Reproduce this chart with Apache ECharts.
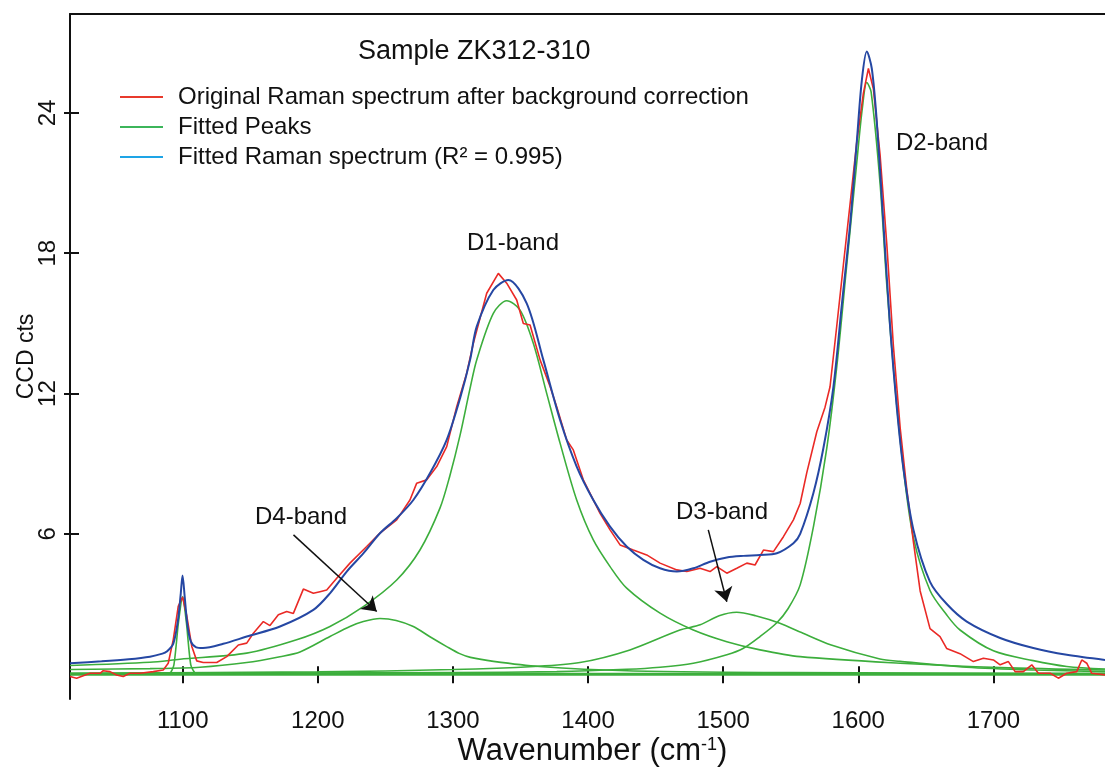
<!DOCTYPE html>
<html>
<head>
<meta charset="utf-8">
<script src="https://cdn.jsdelivr.net/npm/echarts@6/dist/echarts.min.js"></script>
<style>
html,body{margin:0;padding:0;background:#fff;}
#chart{width:1105px;height:772px;}
</style>
</head>
<body>
<div id="chart"></div>
<script>
// ---- tick values ----
const xTicks = [1100, 1200, 1300, 1400, 1500, 1600, 1700];
const yTicks = [6, 12, 18, 24];

// ---- original spectrum (wavenumber, CCD cts) ----
const originalSpectrum = [
  [1016.6,-0.1],[1021.5,-0.17],[1031.4,0.04],[1038.8,0.04],[1041.2,0.15],[1046.2,0.11],[1051.1,-0.03],
  [1056,-0.1],[1061,0.04],[1068.4,0.04],[1078.2,0.11],[1085.6,0.18],[1089.3,0.47],[1093,1.47],
  [1096.7,2.9],[1099.9,3.3],[1103,2.5],[1106.7,1.2],[1110.4,0.57],[1115.2,0.5],[1120.2,0.5],
  [1125.2,0.5],[1132.6,0.75],[1141.2,1.25],[1147.4,1.33],[1152.3,1.75],[1159.7,2.25],[1164.6,2.08],
  [1170.8,2.54],[1177,2.68],[1181.9,2.6],[1189.3,3.64],[1196.7,3.46],[1201.6,3.53],[1206.6,3.6],
  [1214,4.1],[1223.8,4.75],[1236.2,5.46],[1246,6.03],[1258.4,6.6],[1268.2,7.45],[1273.2,8.17],
  [1280.6,8.31],[1288,8.88],[1295.4,9.73],[1302.8,11.44],[1310.2,12.87],[1315.1,14.15],[1325,16.29],
  [1333.6,17.14],[1339.8,16.72],[1347.2,16.0],[1352.1,15.0],[1357.1,14.93],[1364.5,13.44],[1371.9,12.3],
  [1376.8,11.44],[1384.2,10.02],[1389.1,9.59],[1396.5,8.31],[1403.9,7.45],[1408.9,6.88],[1416.3,6.17],
  [1423.7,5.53],[1433.5,5.31],[1443.4,5.1],[1453.3,4.75],[1465.7,4.46],[1473.1,4.39],[1482.9,4.53],
  [1490.3,4.39],[1495.3,4.6],[1502.7,4.32],[1510.1,4.53],[1517.5,4.75],[1523.6,4.67],[1529.8,5.31],
  [1537.2,5.24],[1544.6,5.88],[1552,6.6],[1557,7.3],[1561.9,8.62],[1569.3,10.37],[1575.4,11.42],
  [1579.1,12.29],[1584.1,14.9],[1589,17.52],[1594,20.14],[1598.9,22.76],[1603.8,24.85],[1607.5,25.9],
  [1611.2,25.02],[1616.1,22.23],[1621.1,18.39],[1626,14.03],[1631,10.54],[1635.9,7.92],[1640.8,5.66],
  [1645.8,3.56],[1653.1,1.95],[1660.5,1.61],[1665.4,1.1],[1675.3,0.88],[1685.2,0.54],[1692.6,0.68],
  [1700,0.61],[1705,0.4],[1711.1,0.54],[1716.1,0.11],[1722.2,0.11],[1728.4,0.4],[1733.3,0.04],
  [1742,0.04],[1748.1,-0.17],[1754.3,0.04],[1761.7,0.11],[1765.4,0.61],[1769.1,0.47],[1772.8,0.04],
  [1782.6,-0.03]
];

// ---- fitted sum ----
const fittedSpectrum = [
  [1016.6,0.47],[1040,0.55],[1060,0.64],[1075.8,0.75],[1085,0.88],[1088.2,0.97],[1093,1.3],
  [1096.5,2.3],[1098.5,3.4],[1099.9,4.22],[1101.5,3.3],[1103.5,2.1],[1106,1.4],[1110,1.15],
  [1115,1.12],[1130,1.3],[1147.4,1.61],[1172,2.04],[1196.7,2.75],[1209,3.46],[1221.4,4.39],
  [1233.7,5.17],[1246,6.03],[1258.4,6.67],[1270.7,7.45],[1283,8.59],[1295.4,10.02],[1305.3,11.8],
  [1312.7,13.44],[1317.6,14.86],[1329.9,16.43],[1341,16.86],[1354.6,15.86],[1366.9,13.44],
  [1379.3,10.87],[1391.6,8.88],[1403.9,7.45],[1416.3,6.31],[1428.6,5.46],[1440.9,4.89],[1453.3,4.53],
  [1465.7,4.39],[1477.9,4.53],[1490.3,4.81],[1502.7,4.99],[1515,5.06],[1527.3,5.10],[1539.7,5.17],
  [1552,5.6],[1557,6.0],[1566.8,7.75],[1574.2,9.67],[1581.6,12.29],[1587.8,15.78],[1594,19.27],
  [1598.9,22.76],[1602.6,25.37],[1606.3,26.63],[1610,25.9],[1613.7,23.63],[1618.6,19.27],
  [1623.5,14.9],[1628.5,11.42],[1633.4,8.79],[1640.8,6.18],[1653.1,3.95],[1665.5,3.0],[1680.3,2.25],
  [1705,1.55],[1729.5,1.12],[1754.3,0.83],[1782.6,0.61]
];

// ---- fitted peaks ----
const peak1100 = [
  [1016.6,0.02],[1090,0.03],[1093.5,0.4],[1096.8,2.18],[1100,3.32],[1102.8,2.18],[1106,0.4],
  [1110,0.03],[1782.6,0.02]
];
const peakD4 = [
  [1016.6,0.2],[1075.8,0.24],[1112.8,0.3],[1147.4,0.5],[1172,0.75],[1186.8,0.95],[1209,1.61],
  [1223.8,2.04],[1233.7,2.25],[1246,2.38],[1258,2.3],[1270.7,2.04],[1283,1.6],[1295.4,1.18],
  [1305,0.88],[1313,0.72],[1330,0.55],[1364,0.33],[1428.6,0.15],[1550,0.07],[1782.6,0.03]
];
const peakD1 = [
  [1016.6,0.37],[1075.8,0.51],[1098,0.64],[1147.4,0.9],[1184.3,1.47],[1209,2.04],[1233.7,2.89],
  [1258.4,4.03],[1275.6,5.31],[1290.4,7.1],[1297.8,8.5],[1305.2,10.2],[1312.6,12.2],[1317.6,13.44],
  [1329.9,15.43],[1339.8,15.97],[1349.7,15.57],[1359.5,14.15],[1369.4,12.01],[1379.3,9.88],
  [1391.6,7.45],[1403.9,5.74],[1416.3,4.6],[1428.6,3.68],[1453.3,2.61],[1477.9,1.89],[1502.7,1.39],
  [1527.3,1.04],[1557,0.75],[1631,0.47],[1705,0.28],[1782.6,0.18]
];
const peakD3 = [
  [1016.6,0.04],[1200,0.1],[1300,0.2],[1360,0.33],[1394,0.5],[1431,1.04],[1468,1.89],[1483,2.11],
  [1497,2.5],[1510,2.65],[1524,2.5],[1542,2.18],[1558,1.78],[1580,1.25],[1616,0.65],[1631,0.55],
  [1680,0.3],[1730,0.18],[1782.6,0.11]
];
const peakD2 = [
  [1016.6,0.03],[1300,0.07],[1376.8,0.11],[1428.6,0.21],[1453.3,0.30],[1477.9,0.47],[1502.7,0.83],
  [1515,1.11],[1527.3,1.61],[1539.7,2.2],[1548,2.8],[1557,3.82],[1566.8,6.3],[1576.7,9.67],
  [1584.1,13.16],[1591.5,17.52],[1598.9,21.89],[1603,24.2],[1606.3,25.3],[1609.5,24.9],[1616.1,21.01],
  [1621.1,16.65],[1627.2,12.29],[1633.4,8.79],[1640.8,5.84],[1653.1,3.58],[1665.5,2.53],[1675.3,1.89],
  [1700,1.0],[1729.5,0.58],[1754.3,0.33],[1782.6,0.22]
];
const baseline = [[1016.6,0.0],[1782.6,0.0]];

const NAME_RED = 'Original Raman spectrum after background correction';
const NAME_GREEN = 'Fitted Peaks';
const NAME_BLUE = 'Fitted Raman spectrum (R\u00B2 = 0.995)';

const RED = '#ea2a26', GREEN = '#3cae3c', BLUE = '#2547a3';
const FONT = "'Liberation Sans', Arial, sans-serif";
const X_MIN = 1016.6, X_MAX = 1782.6, Y_MIN = -1.06, Y_MAX = 28.23;

function greenSeries(data, extra) {
  return Object.assign({
    name: NAME_GREEN, type: 'line', data: data, symbol: 'none', smooth: 0.3,
    lineStyle: {color: GREEN, width: 1.6}, itemStyle: {color: GREEN},
    z: 2
  }, extra || {});
}

const chart = echarts.init(document.getElementById('chart'), null, {renderer: 'canvas'});
const option = {
  animation: false,
  backgroundColor: '#fff',
  textStyle: {fontFamily: FONT, color: '#111'},
  title: {
    text: 'Sample ZK312-310', left: 353, top: 33, padding: 5,
    textStyle: {fontFamily: FONT, fontSize: 27, fontWeight: 'normal', color: '#111'}
  },
  legend: {
    orient: 'vertical', left: 120, top: 85, padding: 0,
    icon: 'rect', itemWidth: 43, itemHeight: 2, itemGap: 6,
    textStyle: {fontFamily: FONT, fontSize: 24, color: '#111', lineHeight: 24, padding: [0, 0, 0, 10]},
    data: [
      {name: NAME_RED, itemStyle: {color: '#e83a2c'}},
      {name: NAME_GREEN, itemStyle: {color: '#3cb55a'}},
      {name: NAME_BLUE, itemStyle: {color: '#1ea4e6'}}
    ]
  },
  grid: {left: 70, right: 0, top: 14, bottom: 73, containLabel: false, outerBoundsMode: 'none'},
  xAxis: [
    {
      type: 'value', min: X_MIN, max: X_MAX, position: 'bottom',
      axisLine: {lineStyle: {color: '#111', width: 2}},
      axisTick: {inside: false, length: 9, customValues: xTicks, lineStyle: {color: '#111', width: 2}},
      axisLabel: {customValues: xTicks, fontSize: 24, color: '#111', margin: 10, fontFamily: FONT,
        formatter: function (v) { return String(Math.round(v)); }},
      splitLine: {show: false},
      name: 'Wavenumber (cm{sup|-1})', nameLocation: 'middle', nameGap: 37, nameMoveOverlap: false,
      nameTextStyle: {
        fontSize: 31, color: '#111', fontFamily: FONT, padding: [0, 0, 0, 10],
        rich: {sup: {fontSize: 18, verticalAlign: 'top', color: '#111', fontFamily: FONT, padding: [0, 0, 12, 0]}}
      }
    },
    {
      type: 'value', min: X_MIN, max: X_MAX, position: 'bottom',
      axisLine: {show: false},
      axisTick: {inside: true, length: 8, customValues: xTicks, lineStyle: {color: '#111', width: 2}},
      axisLabel: {show: false}, splitLine: {show: false}
    },
    {
      type: 'value', min: X_MIN, max: X_MAX, position: 'top',
      axisLine: {lineStyle: {color: '#111', width: 2}},
      axisTick: {show: false}, axisLabel: {show: false}, splitLine: {show: false}
    }
  ],
  yAxis: [
    {
      type: 'value', min: Y_MIN, max: Y_MAX, position: 'left',
      axisLine: {show: true, lineStyle: {color: '#111', width: 2}},
      axisTick: {show: true, inside: false, length: 6, customValues: yTicks, lineStyle: {color: '#111', width: 2}},
      axisLabel: {customValues: yTicks, rotate: 90, fontSize: 24, color: '#111', margin: 10, fontFamily: FONT},
      splitLine: {show: false},
      name: 'CCD cts', nameLocation: 'middle', nameGap: 32, nameMoveOverlap: false,
      nameTextStyle: {fontSize: 23, color: '#111', fontFamily: FONT}
    },
    {
      type: 'value', min: Y_MIN, max: Y_MAX, position: 'left',
      axisLine: {show: false},
      axisTick: {show: true, inside: true, length: 9, customValues: yTicks, lineStyle: {color: '#111', width: 2}},
      axisLabel: {show: false}, splitLine: {show: false}
    }
  ],
  series: [
    greenSeries(baseline, {smooth: false, lineStyle: {color: GREEN, width: 3},
      markLine: {
        silent: true, symbol: ['none', 'arrow'], symbolSize: 14,
        lineStyle: {color: '#111', width: 1.5, type: 'solid'},
        label: {show: false},
        data: [
          [{coord: [1182, 5.96]}, {coord: [1243.6, 2.68]}],
          [{coord: [1489, 6.17]}, {coord: [1502.7, 3.10]}]
        ]
      }
    }),
    greenSeries(peak1100, {smooth: 0.2}),
    greenSeries(peakD4),
    greenSeries(peakD1),
    greenSeries(peakD3),
    greenSeries(peakD2),
    {
      name: NAME_RED, type: 'line', data: originalSpectrum, symbol: 'none', smooth: false,
      lineStyle: {color: RED, width: 1.6}, itemStyle: {color: RED}, z: 3
    },
    {
      name: NAME_BLUE, type: 'line', data: fittedSpectrum, symbol: 'none', smooth: 0.3,
      lineStyle: {color: BLUE, width: 2}, itemStyle: {color: BLUE}, z: 4
    }
  ],
  graphic: [
    {type: 'text', x: 513, y: 243, style: {text: 'D1-band', font: "24px 'Liberation Sans', Arial, sans-serif", fill: '#111', align: 'center', verticalAlign: 'middle'}},
    {type: 'text', x: 942, y: 143, style: {text: 'D2-band', font: "24px 'Liberation Sans', Arial, sans-serif", fill: '#111', align: 'center', verticalAlign: 'middle'}},
    {type: 'text', x: 722, y: 512, style: {text: 'D3-band', font: "24px 'Liberation Sans', Arial, sans-serif", fill: '#111', align: 'center', verticalAlign: 'middle'}},
    {type: 'text', x: 301, y: 517, style: {text: 'D4-band', font: "24px 'Liberation Sans', Arial, sans-serif", fill: '#111', align: 'center', verticalAlign: 'middle'}}
  ]
};
chart.setOption(option);
</script>
</body>
</html>
